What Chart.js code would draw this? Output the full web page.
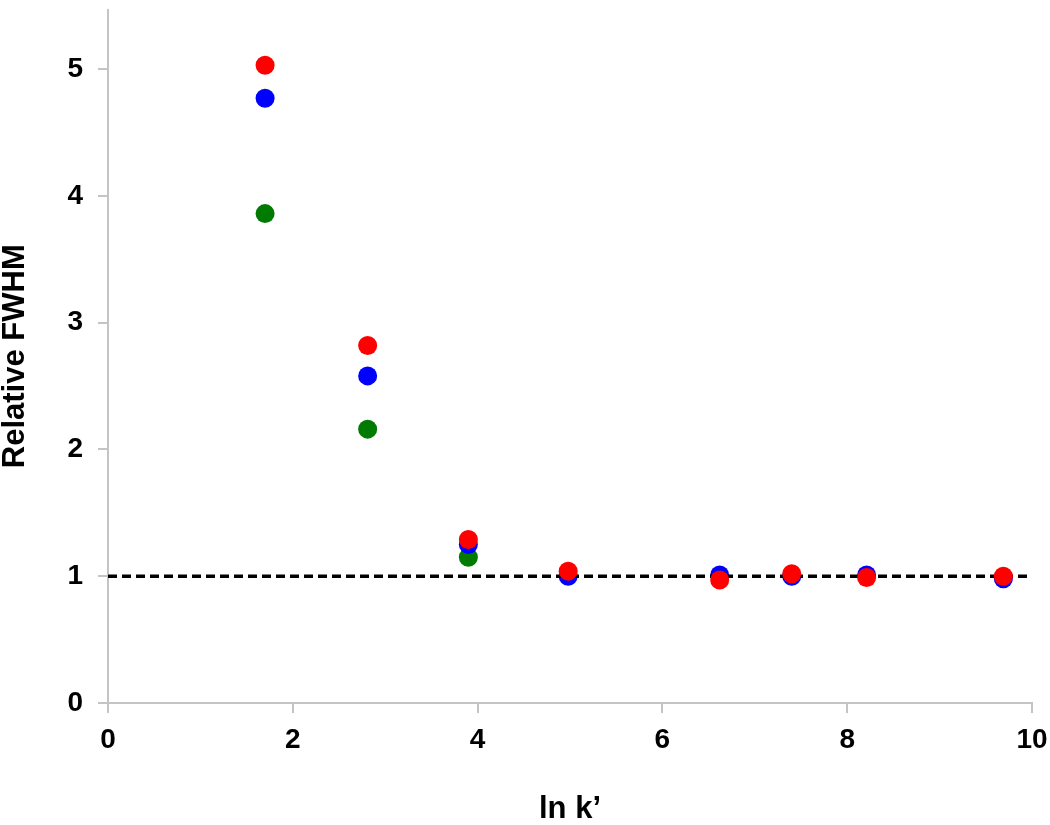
<!DOCTYPE html>
<html>
<head>
<meta charset="utf-8">
<script src="https://cdn.jsdelivr.net/npm/chart.js@4/dist/chart.umd.min.js"></script>
<style>
html,body{margin:0;padding:0;background:#fff;}
#wrap{width:1050px;height:825px;}
</style>
</head>
<body>
<div id="wrap"><canvas id="c" width="1050" height="825"></canvas></div>
<script>
const lnK = [1.70, 2.81, 3.90, 4.98, 6.62, 7.40, 8.21, 9.69];
const redFWHM = [5.03, 2.82, 1.29, 1.04, 0.97, 1.02, 0.99, 1.00];
const blueFWHM = [4.77, 2.58, 1.25, 1.00, 1.01, 1.00, 1.01, 0.98];
const greenX = [1.70, 2.81, 3.90];
const greenFWHM = [3.86, 2.16, 1.15];
const refX = [0, 10];
const refY = [1, 1];
const xTicks = [0, 2, 4, 6, 8, 10];
const yTicks = [0, 1, 2, 3, 4, 5];

const pts = (xs, ys) => xs.map((x, i) => ({x: x, y: ys[i]}));

const axisColor = '#c4c4c4';
const tickFont = {family: 'Liberation Sans, Arial, sans-serif', size: 28, weight: 'bold'};
const titleFont = {family: 'Liberation Sans, Arial, sans-serif', size: 31, weight: 'bold', lineHeight: 1};

new Chart(document.getElementById('c'), {
  type: 'scatter',
  data: {
    datasets: [
      {label: 'red', data: pts(lnK, redFWHM), backgroundColor: '#ff0000', borderColor: '#ff0000', pointRadius: 9.5, borderWidth: 0, order: 0},
      {label: 'ref', type: 'line', data: pts(refX, refY), borderColor: '#000000', borderWidth: 3.5, borderDash: [9, 5], pointRadius: 0, fill: false, order: 1},
      {label: 'blue', data: pts(lnK, blueFWHM), backgroundColor: '#0000ff', borderColor: '#0000ff', pointRadius: 9.5, borderWidth: 0, order: 2},
      {label: 'green', data: pts(greenX, greenFWHM), backgroundColor: '#007a00', borderColor: '#007a00', pointRadius: 9.5, borderWidth: 0, order: 3}
    ]
  },
  options: {
    responsive: false,
    animation: false,
    layout: {padding: {top: 5, right: 18, left: 0, bottom: 0}},
    plugins: {legend: {display: false}, tooltip: {enabled: false}},
    scales: {
      x: {
        type: 'linear', min: 0, max: 10,
        afterBuildTicks: s => { s.ticks = xTicks.map(v => ({value: v})); },
        afterFit: s => { s.height = 122; s.paddingLeft = 0; s.paddingRight = 0; },
        ticks: {color: '#000', font: tickFont, padding: 10, maxRotation: 0},
        grid: {display: true, drawOnChartArea: false, drawTicks: true, tickLength: 10, color: axisColor, lineWidth: 2},
        border: {display: true, color: axisColor, width: 2},
        title: {display: true, text: 'ln k’', color: '#000', font: titleFont, padding: {top: 0, bottom: 0}}
      },
      y: {
        type: 'linear', min: 0, max: 5.47,
        afterBuildTicks: s => { s.ticks = yTicks.map(v => ({value: v})); },
        afterFit: s => { s.width = 108; s.paddingTop = 0; s.paddingBottom = 0; },
        ticks: {color: '#000', font: tickFont, padding: 15},
        grid: {display: true, drawOnChartArea: false, drawTicks: true, tickLength: 10, color: axisColor, lineWidth: 2},
        border: {display: true, color: axisColor, width: 2},
        title: {display: true, text: 'Relative FWHM', color: '#000', font: titleFont, padding: {top: 0, bottom: 0}}
      }
    }
  }
});
</script>
</body>
</html>
